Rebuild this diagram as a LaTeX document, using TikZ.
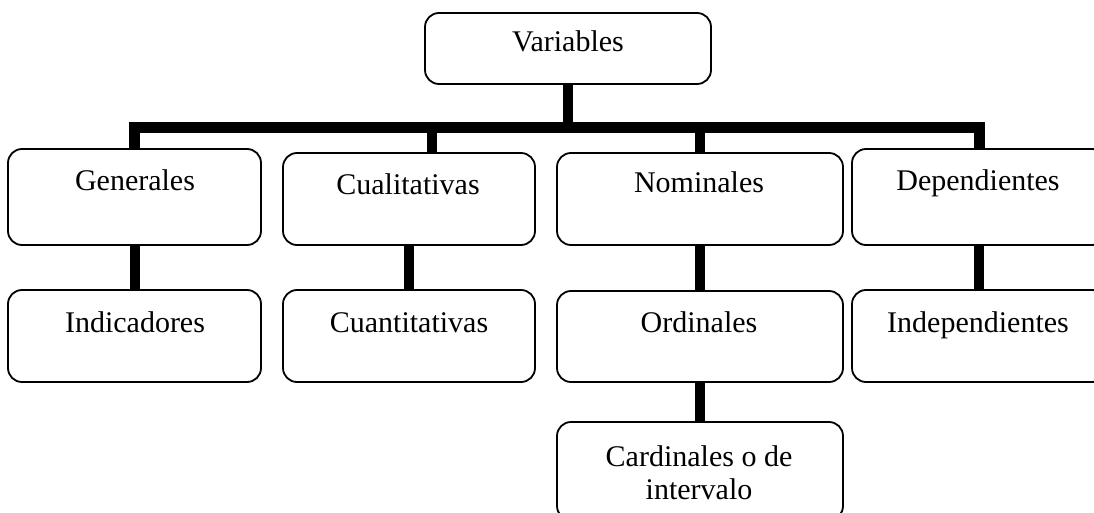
\documentclass[tikz,border=0pt]{standalone}
\usepackage{fontspec}
\setmainfont{Liberation Serif}
\begin{document}
\begin{tikzpicture}[x=1pt,y=-1pt,
  box/.style={draw, line width=1.8pt, rounded corners=14pt, inner sep=0pt, rectangle},
  conn/.style={line width=10pt, line cap=butt, line join=miter},
  bar/.style={line width=11pt, line cap=butt, line join=miter},
  lbl/.style={anchor=base, inner sep=0pt, font=\fontsize{30}{34}\selectfont}]
\useasboundingbox (0,0) rectangle (1094,513);
\clip (0,0) rectangle (1094,513);
% boxes
\node[box, minimum width=286pt, minimum height=71pt] (var) at (568,48.5) {};
\node[box, minimum width=253pt, minimum height=96pt] (gen) at (134.5,197) {};
\node[box, minimum width=252pt, minimum height=92pt] (cual) at (409,199) {};
\node[box, minimum width=286pt, minimum height=92pt] (nom) at (700,199) {};
\node[box, minimum width=254pt, minimum height=96pt] (dep) at (979,197) {};
\node[box, minimum width=253pt, minimum height=92pt] (ind) at (134.5,336) {};
\node[box, minimum width=252pt, minimum height=92pt] (cuan) at (409,336) {};
\node[box, minimum width=286pt, minimum height=91pt] (ord) at (700,336.5) {};
\node[box, minimum width=254pt, minimum height=92pt] (indep) at (979,336) {};
\node[box, minimum width=286pt, minimum height=98pt] (card) at (700,471) {};
% labels
\node[lbl] (tvar) at (568,52) {Variables};
\node[lbl] (tgen) at (135,190) {Generales};
\node[lbl] (tcual) at (408,194) {Cualitativas};
\node[lbl] (tnom) at (699,193) {Nominales};
\node[lbl] (tdep) at (978,190) {Dependientes};
\node[lbl] (tind) at (135,332) {Indicadores};
\node[lbl] (tcuan) at (409,332) {Cuantitativas};
\node[lbl] (tord) at (699,332) {Ordinales};
\node[lbl] (tindep) at (978,332) {Independientes};
\node[lbl] (tcard1) at (699,466) {Cardinales o de};
\node[lbl] (tcard2) at (699,499) {intervalo};
% connectors
\coordinate (barL) at (134.5,127.5);
\coordinate (barR) at (979,127.5);
\coordinate (cx) at (432,127.5);
\draw[bar] (gen.north) -- (barL) -- (barR) -- (dep.north);
\draw[conn] (var.south) -- (var.south |- barL);
\draw[conn] (cx) -- (cx |- cual.north);
\draw[conn] (nom.north |- barL) -- (nom.north);
\draw[conn] (gen.south) -- (ind.north);
\draw[conn] (cual.south) -- (cuan.north);
\draw[conn] (nom.south) -- (ord.north);
\draw[conn] (ord.south) -- (card.north);
\draw[conn] (dep.south) -- (indep.north);
\end{tikzpicture}
\end{document}
